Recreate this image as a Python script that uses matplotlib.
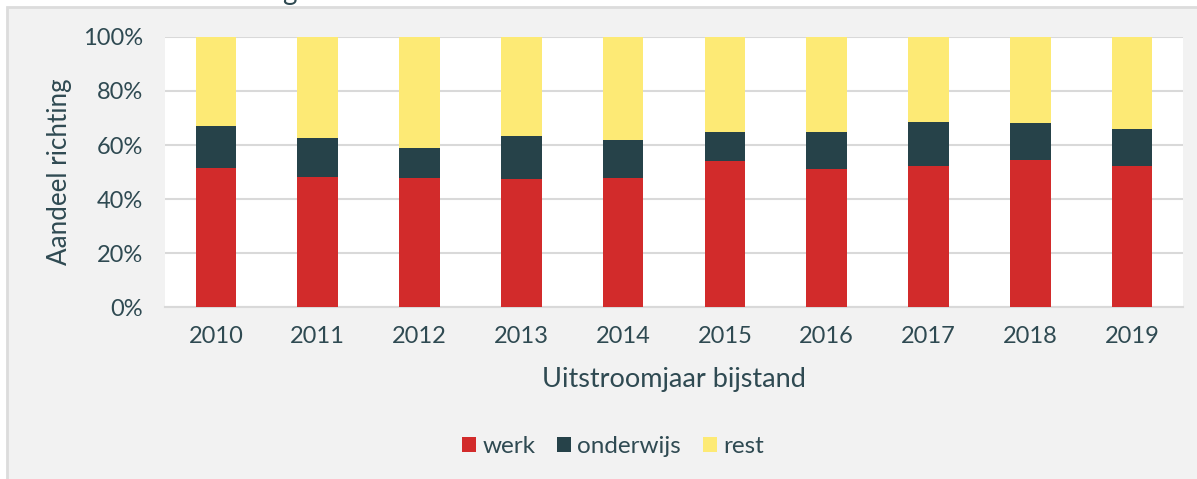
import numpy as np
import matplotlib
matplotlib.use("Agg")
import matplotlib.pyplot as plt
from matplotlib.patches import Rectangle

# data (share per outflow year, in %)
years = ["2010", "2011", "2012", "2013", "2014", "2015", "2016", "2017", "2018", "2019"]
werk = [51.4, 48.3, 47.7, 47.3, 47.7, 54.1, 51.1, 52.3, 54.3, 52.3]
onderwijs = [15.5, 14.3, 11.2, 15.9, 14.3, 10.6, 13.6, 16.2, 14.0, 13.6]
rest = [100 - w - o for w, o in zip(werk, onderwijs)]
series_names = ["werk", "onderwijs", "rest"]
colors = ["#d22b2b", "#264249", "#fdea75"]

text_color = "#2f4a52"
plt.rcParams['font.family'] = ['Lato', 'DejaVu Sans']

fig = plt.figure(figsize=(11.97, 4.79), dpi=100)
fig.patch.set_facecolor("white")

# grey chart box behind everything
box = Rectangle((7 / 1197, -0.01), 1.0, (479 - 7) / 479 + 0.01,
                transform=fig.transFigure, facecolor="#f2f2f2",
                edgecolor="#dcdcdc", linewidth=2, zorder=-5)
fig.patches.append(box)

# cut-off title fragment at the top
fig.text(282 / 1197, 1.0, "g", fontsize=20, color=text_color, va="baseline", ha="left")

ax = fig.add_axes([165 / 1197, (479 - 307) / 479, (1183 - 165) / 1197, 270 / 479])
ax.set_facecolor("white")

x = np.arange(len(years))
bottom = np.zeros(len(years))
for name, vals, c in zip(series_names, [werk, onderwijs, rest], colors):
    ax.bar(x, vals, width=0.4, bottom=bottom, color=c, label=name, zorder=3)
    bottom += np.array(vals)

ax.set_xlim(-0.5, len(years) - 0.5)
ax.set_ylim(0, 100)
ax.set_yticks(np.arange(0, 101, 20))
ax.set_yticklabels([f"{v}%" for v in range(0, 101, 20)])
ax.set_xticks(x)
ax.set_xticklabels(years)
ax.yaxis.grid(True, color="#d9d9d9", linewidth=1.5, zorder=1)
ax.set_axisbelow(True)
for s in ["top", "right", "left"]:
    ax.spines[s].set_visible(False)
ax.spines["bottom"].set_color("#d9d9d9")
ax.spines["bottom"].set_linewidth(1.5)
ax.tick_params(axis="both", length=0, labelsize=17, colors=text_color)
ax.tick_params(axis="y", pad=16)
ax.tick_params(axis="x", pad=14)

ax.set_xlabel("Uitstroomjaar bijstand", fontsize=19.5, color=text_color, labelpad=14)
ax.set_ylabel("Aandeel richting", fontsize=18.7, color=text_color, labelpad=8)

handles, labels = ax.get_legend_handles_labels()
fig.legend(handles, labels, loc="center", bbox_to_anchor=(0.512, 0.067), ncol=3,
           frameon=False, fontsize=17.5, labelcolor=text_color,
           handlelength=0.58, handleheight=0.58, handletextpad=0.25, columnspacing=0.9)

fig.savefig("out.png", dpi=100, facecolor=fig.get_facecolor())
